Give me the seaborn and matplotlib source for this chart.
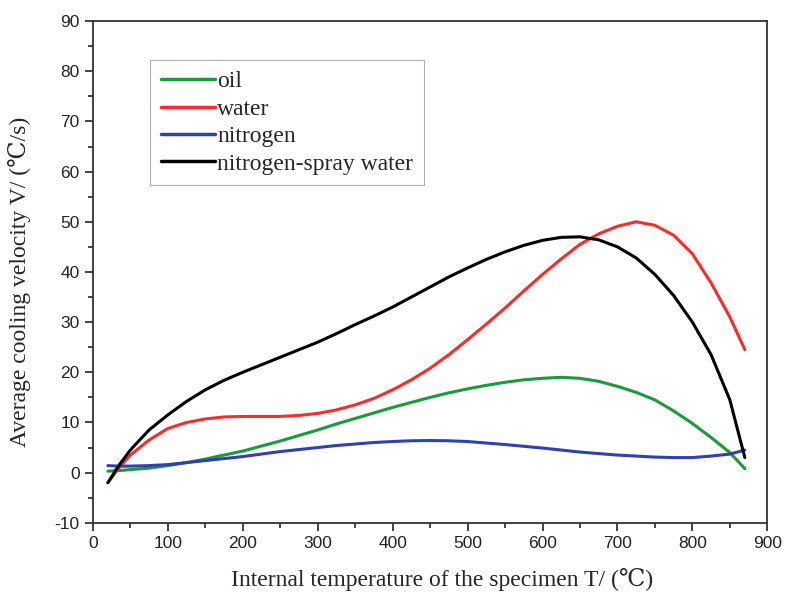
import matplotlib
matplotlib.use("Agg")
import matplotlib.pyplot as plt
import seaborn as sns
import pandas as pd
from matplotlib.ticker import MultipleLocator

temperature = [20, 35, 50, 75, 100, 125, 150, 175, 200, 225, 250, 275, 300, 325, 350, 375, 400, 425,
               450, 475, 500, 525, 550, 575, 600, 625, 650, 675, 700, 725, 750, 775, 800, 825, 850, 870]
oil = [0.3, 0.4, 0.6, 0.9, 1.4, 2.0, 2.7, 3.5, 4.3, 5.3, 6.3, 7.4, 8.5, 9.7, 10.8, 11.9, 13.0, 14.0,
       15.0, 15.9, 16.7, 17.4, 18.0, 18.5, 18.8, 19.0, 18.8, 18.2, 17.2, 16.0, 14.5, 12.3, 9.8, 7.0, 4.0, 0.8]
water = [-2.0, 1.0, 3.5, 6.5, 8.8, 10.0, 10.7, 11.1, 11.2, 11.2, 11.2, 11.4, 11.8, 12.5, 13.5, 14.8, 16.5, 18.5,
         20.8, 23.5, 26.5, 29.6, 32.8, 36.2, 39.5, 42.6, 45.5, 47.6, 49.1, 50.0, 49.3, 47.3, 43.6, 37.8, 31.0, 24.5]
nitrogen = [1.4, 1.3, 1.3, 1.4, 1.6, 2.0, 2.4, 2.8, 3.2, 3.7, 4.2, 4.6, 5.0, 5.4, 5.7, 6.0, 6.2, 6.35,
            6.4, 6.35, 6.2, 5.9, 5.6, 5.25, 4.9, 4.5, 4.1, 3.8, 3.5, 3.3, 3.1, 3.0, 3.0, 3.3, 3.7, 4.5]
spray = [-2.0, 1.5, 4.5, 8.5, 11.5, 14.2, 16.5, 18.4, 20.0, 21.5, 23.0, 24.5, 26.0, 27.7, 29.5, 31.2, 33.0, 35.0,
         37.0, 39.0, 40.8, 42.5, 44.0, 45.3, 46.3, 46.9, 47.0, 46.4, 45.0, 42.8, 39.5, 35.3, 30.0, 23.5, 14.5, 3.0]

series_names = ["oil", "water", "nitrogen", "nitrogen-spray water"]
series_values = [oil, water, nitrogen, spray]
colors = ["#1a9a3a", "#ff2a2a", "#3040b0", "#000000"]

rows = []
for name, vals in zip(series_names, series_values):
    for t, v in zip(temperature, vals):
        rows.append({"T": t, "V": v, "medium": name})
df = pd.DataFrame(rows)

sns.set_style("white")
plt.rcParams['font.family'] = ['Liberation Sans', 'DejaVu Sans']
plt.rcParams['axes.unicode_minus'] = False

fig = plt.figure(figsize=(7.87, 6.03), dpi=100)
ax = fig.add_axes([0.118, 0.133, 0.857, 0.832])

sns.lineplot(data=df, x="T", y="V", hue="medium", hue_order=series_names,
             palette=dict(zip(series_names, colors)), linewidth=2.2, ax=ax)

ax.set_xlim(0, 900)
ax.set_ylim(-10, 90)
ax.xaxis.set_major_locator(MultipleLocator(100))
ax.xaxis.set_minor_locator(MultipleLocator(50))
ax.yaxis.set_major_locator(MultipleLocator(10))
ax.yaxis.set_minor_locator(MultipleLocator(5))
ax.tick_params(axis='both', which='major', direction='out', length=6, width=1.2,
               labelsize=12.5, colors='#222222', bottom=True, left=True)
ax.tick_params(axis='both', which='minor', direction='out', length=3.5, width=1.2,
               bottom=True, left=True)
for s in ax.spines.values():
    s.set_color('#333333')
    s.set_linewidth(1.3)

serif = ['Liberation Serif', 'DejaVu Serif']
ax.set_xlabel("Internal temperature of the specimen T/ (\u2103)", family=serif, fontsize=17)
ax.set_ylabel("Average cooling velocity V/ (\u2103/s)", family=serif, fontsize=17)
ax.xaxis.set_label_coords(0.518, -0.09)
ax.yaxis.set_label_coords(-0.092, 0.48)

leg = ax.legend(loc='upper left', bbox_to_anchor=(0.0846, 0.922), borderaxespad=0,
                frameon=True, fancybox=False, prop={'family': serif, 'size': 17},
                handlelength=2.3, handletextpad=0.1, labelspacing=0.25,
                borderpad=0.45)
leg.get_frame().set_edgecolor('#999999')
leg.get_frame().set_linewidth(0.8)
for line in leg.get_lines():
    line.set_linewidth(2.5)

fig.savefig("out.png", dpi=100)
